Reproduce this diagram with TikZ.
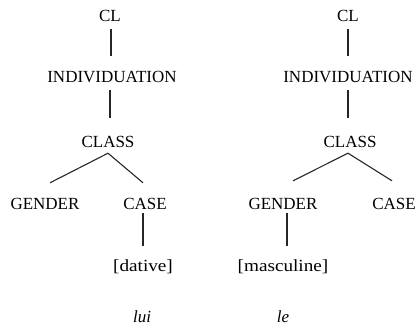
\documentclass[tikz,border=0pt]{standalone}
\usepackage{fontspec}
\setmainfont{Liberation Serif}
\usepackage{graphicx}
\begin{document}
\begin{tikzpicture}[x=1pt,y=-1pt,
  lab/.style={anchor=base,inner sep=0pt,text height=12pt,text depth=4pt,
    font=\fontsize{17}{20}\selectfont,text=black},
  feat/.style={lab,font=\fontsize{17}{20}\selectfont},
  word/.style={lab,font=\fontsize{17}{20}\selectfont\itshape},
  branch/.style={draw=black!85,line width=1.1pt},
  vline/.style={branch,shorten <=3pt,shorten >=15pt}]
\useasboundingbox (0,0) rectangle (415,326);
% left tree
\node[lab] (cl1) at (110,22) {CL};
\node[lab] (ind1) at (112,83) {INDIVIDUATION};
\node[lab] (cls1) at (108,147) {CLASS};
\node[lab] (gen1) at (45,209) {GENDER};
\node[lab] (case1) at (145,209) {CASE};
\node[feat] (dat) at (143,271) {\scalebox{1.13}[1]{[dative]}};
\node[word] (lui) at (142,322) {lui};
% right tree
\node[lab] (cl2) at (348,22) {CL};
\node[lab] (ind2) at (348,83) {INDIVIDUATION};
\node[lab] (cls2) at (350,147) {CLASS};
\node[lab] (gen2) at (283,209) {GENDER};
\node[lab] (case2) at (394,209) {CASE};
\node[feat] (masc) at (283,271) {\scalebox{1.13}[1]{[masculine]}};
\node[word] (le) at (283,322) {le};
% left connectors
\draw[vline] ([xshift=1pt]cl1.south) -- ([xshift=1pt]cl1.south |- ind1.north);
\draw[vline,shorten >=17pt] ([xshift=-2pt]ind1.south) -- ([xshift=-2pt]ind1.south |- cls1.north);
\draw[branch] ([yshift=-2pt]cls1.south) -- ([xshift=5pt,yshift=14pt]gen1.north);
\draw[branch] ([yshift=-2pt]cls1.south) -- ([xshift=-2pt,yshift=14pt]case1.north);
\draw[vline,shorten <=0pt,shorten >=13pt] (dat.north |- case1.south) -- (dat.north);
% right connectors
\draw[vline] (cl2.south) -- (cl2.south |- ind2.north);
\draw[vline,shorten >=17pt] (ind2.south) -- (ind2.south |- cls2.north);
\draw[branch] ([xshift=-2pt,yshift=-2pt]cls2.south) -- ([xshift=10pt,yshift=16pt]gen2.north);
\draw[branch] ([xshift=-2pt,yshift=-2pt]cls2.south) -- ([xshift=-2pt,yshift=16pt]case2.north);
\draw[vline,shorten <=0pt,shorten >=13pt] ([xshift=4pt]gen2.south) -- ([xshift=4pt]gen2.south |- masc.north);
\end{tikzpicture}
\end{document}
